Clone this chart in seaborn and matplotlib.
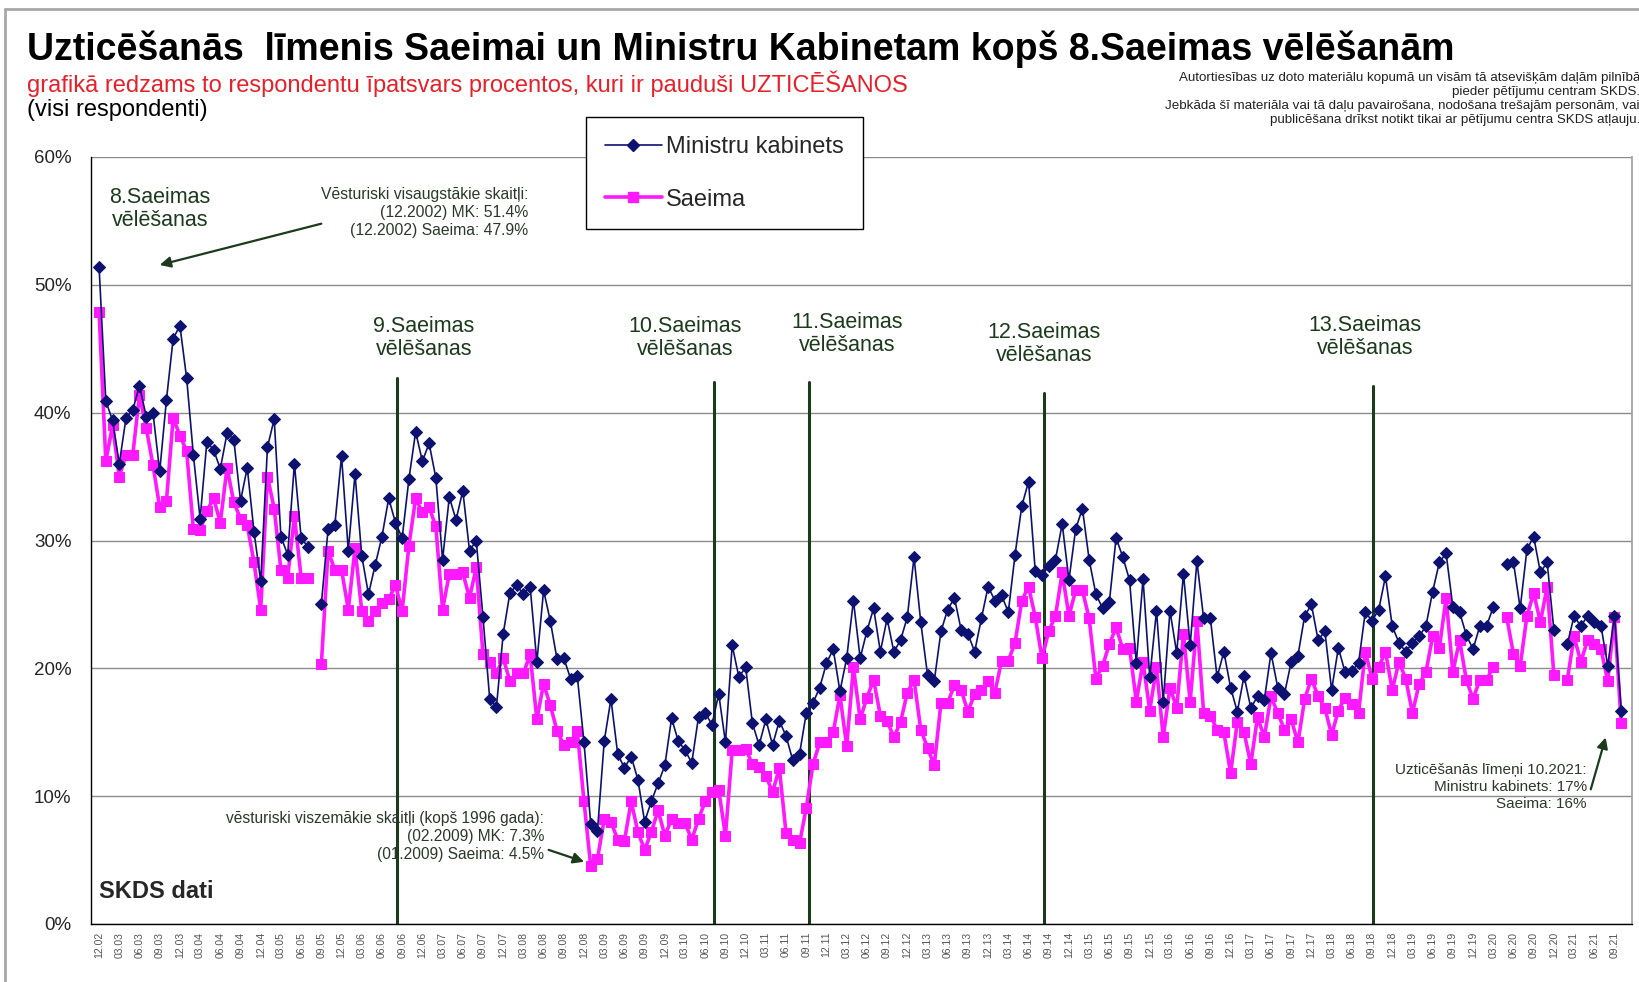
import numpy as np
import pandas as pd
import matplotlib
matplotlib.use("Agg")
import matplotlib.pyplot as plt
from matplotlib.lines import Line2D
import seaborn as sns

nan = np.nan

# Ministru kabinets, monthly from 12.2002 to 10.2021 (%)
mk = [
    51.4, 40.9, 39.4, 36.0, 39.6, 40.2, 42.1, 39.7, 40.0, 35.4,
    41.0, 45.8, 46.8, 42.7, 36.7, 31.7, 37.7, 37.1, 35.6, 38.4,
    37.9, 33.1, 35.7, 30.7, 26.8, 37.3, 39.5, 30.3, 28.9, 36.0,
    30.2, 29.5, nan, 25.0, 30.9, 31.2, 36.6, 29.2, 35.2, 28.8,
    25.8, 28.1, 30.3, 33.3, 31.4, 30.2, 34.8, 38.5, 36.2, 37.6,
    34.9, 28.5, 33.4, 31.6, 33.9, 29.2, 30.0, 24.0, 17.6, 17.0,
    22.7, 25.9, 26.5, 25.8, 26.4, 20.5, 26.1, 23.7, 20.7, 20.8,
    19.2, 19.4, 14.2, 7.8, 7.3, 14.3, 17.6, 13.3, 12.2, 13.1,
    11.3, 8.0, 9.6, 11.0, 12.4, 16.1, 14.3, 13.6, 12.6, 16.2,
    16.5, 15.6, 18.0, 14.2, 21.8, 19.3, 20.1, 15.7, 14.0, 16.0,
    14.0, 15.9, 14.7, 12.8, 13.3, 16.5, 17.3, 18.5, 20.4, 21.5,
    18.2, 20.8, 25.3, 20.8, 22.9, 24.7, 21.3, 23.9, 21.3, 22.2,
    24.0, 28.7, 23.6, 19.5, 19.0, 22.9, 24.6, 25.5, 23.0, 22.7,
    21.3, 23.9, 26.4, 25.3, 25.7, 24.4, 28.9, 32.7, 34.6, 27.6,
    27.3, 28.0, 28.5, 31.3, 26.9, 30.9, 32.5, 28.5, 25.8, 24.7,
    25.2, 30.2, 28.7, 26.9, 20.4, 27.0, 19.3, 24.5, 17.4, 24.5,
    21.2, 27.4, 21.8, 28.4, 23.9, 23.9, 19.3, 21.3, 18.5, 16.6,
    19.4, 16.9, 17.8, 17.5, 21.2, 18.5, 18.0, 20.5, 21.0, 24.1,
    25.0, 22.2, 22.9, 18.3, 21.6, 19.7, 19.8, 20.4, 24.4, 23.7,
    24.6, 27.2, 23.3, 22.0, 21.3, 22.0, 22.5, 23.3, 26.0, 28.3,
    29.0, 24.8, 24.4, 22.6, 21.5, 23.3, 23.3, 24.8, nan, 28.2,
    28.3, 24.7, 29.3, 30.3, 27.5, 28.3, 23.0, nan, 21.9, 24.1,
    23.3, 24.1, 23.6, 23.3, 20.2, 24.1, 16.7,
]

# Saeima (%)
saeima = [
    47.9, 36.2, 39.0, 35.0, 36.7, 36.7, 41.4, 38.8, 35.9, 32.6,
    33.1, 39.6, 38.2, 37.0, 30.9, 30.8, 32.3, 33.3, 31.4, 35.7,
    33.0, 31.7, 31.2, 28.3, 24.6, 35.0, 32.5, 27.7, 27.1, 31.9,
    27.1, 27.1, nan, 20.3, 29.2, 27.7, 27.7, 24.6, 29.4, 24.5,
    23.7, 24.5, 25.1, 25.4, 26.5, 24.5, 29.6, 33.3, 32.2, 32.6,
    31.1, 24.6, 27.4, 27.4, 27.5, 25.5, 27.9, 21.1, 20.5, 19.6,
    20.8, 19.0, 19.6, 19.6, 21.1, 16.0, 18.8, 17.1, 15.1, 14.0,
    14.2, 15.1, 9.6, 4.5, 5.1, 8.2, 8.0, 6.6, 6.5, 9.6,
    7.2, 5.8, 7.2, 8.9, 6.9, 8.2, 7.9, 7.9, 6.6, 8.2,
    9.6, 10.3, 10.5, 6.9, 13.6, 13.6, 13.7, 12.5, 12.3, 11.6,
    10.3, 12.2, 7.1, 6.6, 6.3, 9.1, 12.5, 14.2, 14.2, 15.0,
    17.9, 13.9, 20.1, 16.0, 17.7, 19.1, 16.3, 15.9, 14.6, 15.8,
    18.1, 19.1, 15.2, 13.8, 12.4, 17.3, 17.3, 18.7, 18.3, 16.6,
    18.0, 18.3, 19.0, 18.1, 20.6, 20.6, 22.0, 25.3, 26.4, 24.0,
    20.8, 22.9, 24.1, 27.5, 24.1, 26.1, 26.1, 23.9, 19.2, 20.2,
    21.9, 23.2, 21.5, 21.6, 17.4, 20.5, 16.7, 20.1, 14.6, 18.5,
    16.9, 22.7, 17.4, 23.7, 16.5, 16.3, 15.2, 15.0, 11.8, 15.8,
    15.0, 12.5, 16.2, 14.6, 17.8, 16.5, 15.2, 16.0, 14.2, 17.6,
    19.2, 17.8, 16.9, 14.8, 16.7, 17.7, 17.2, 16.5, 21.3, 19.2,
    20.1, 21.3, 18.3, 20.5, 19.2, 16.5, 18.8, 19.7, 22.5, 21.6,
    25.5, 19.7, 22.2, 19.1, 17.6, 19.1, 19.1, 20.1, nan, 24.0,
    21.1, 20.2, 24.1, 25.9, 23.6, 26.4, 19.5, nan, 19.1, 22.5,
    20.5, 22.2, 21.9, 21.5, 19.0, 24.0, 15.7,
]

series_names = ["Ministru kabinets", "Saeima"]
yticks = [0, 10, 20, 30, 40, 50, 60]

# election markers: position on the month axis and label
elections = [44.2, 91.3, 105.4, 140.3, 189.2]
election_labels = ["9.Saeimas\nvēlēšanas", "10.Saeimas\nvēlēšanas", "11.Saeimas\nvēlēšanas",
                   "12.Saeimas\nvēlēšanas", "13.Saeimas\nvēlēšanas"]
election_tops = [42.7, 42.4, 42.4, 41.5, 42.1]

months = pd.date_range("2002-12-01", periods=len(mk), freq="MS")
month_labels = list(months.strftime("%m.%y"))

W, H = 1640, 982


def fx(px):
    return px / W


def fy(py):
    return 1 - py / H


def to_long(values, name):
    d = pd.DataFrame({"idx": np.arange(len(values)), "val": values})
    d["seg"] = d["val"].isna().cumsum()
    d["series"] = name
    return d.dropna()


sns.set_theme(style="white")
plt.rcParams["font.family"] = ["Liberation Sans", "DejaVu Sans"]

BLUE = "#0d1270"
PINK = "#ff19ff"
GREEN = "#1c3a1c"
NARROW = ["Liberation Sans Narrow", "Liberation Sans"]

fig = plt.figure(figsize=(W / 100, H / 100), dpi=100)
ax = fig.add_axes([fx(91), fy(924), (1632 - 91) / W, (924 - 157) / H])

d_s = to_long(saeima, series_names[1])
d_m = to_long(mk, series_names[0])

sns.lineplot(data=d_s, x="idx", y="val", units="seg", estimator=None, ax=ax,
             color=PINK, linewidth=2.6, marker="s", markersize=7,
             markeredgecolor=PINK, legend=False, zorder=3)
sns.lineplot(data=d_m, x="idx", y="val", units="seg", estimator=None, ax=ax,
             color=BLUE, linewidth=1.2, marker="D", markersize=6.3,
             markeredgecolor=BLUE, legend=False, zorder=4)

ax.set_xlim(-1.2, len(mk) + 0.6)
ax.set_ylim(0, 60)
ax.set_xlabel("")
ax.set_ylabel("")

ax.set_yticks(yticks)
ax.set_yticklabels([f"{v}%" for v in yticks], fontsize=13.5)
ax.set_axisbelow(True)
ax.yaxis.grid(True, color="#8c8c8c", linewidth=1)
ax.xaxis.grid(False)

ax.set_xticks(np.arange(len(mk)))
ax.set_xticklabels([lbl if i % 3 == 0 else "" for i, lbl in enumerate(month_labels)],
                   rotation=90, fontsize=7.5, color="#555555")
ax.tick_params(axis="x", direction="inout", length=5, width=0.8, color="#555555", pad=3)
ax.tick_params(axis="y", direction="out", length=5, width=1, color="black", pad=9)

for side in ["left", "bottom"]:
    ax.spines[side].set_color("black")
    ax.spines[side].set_linewidth(1)
ax.spines["right"].set_color("#a0a0a0")
ax.spines["top"].set_visible(False)

# election lines
for xpos, top in zip(elections, election_tops):
    ax.plot([xpos, xpos], [0, top], color=GREEN, linewidth=2.2, zorder=2)

label_px = [(424, 338), (685, 338), (847, 334), (1044, 344), (1365, 337)]
for (px, py), lbl in zip(label_px, election_labels):
    fig.text(fx(px), fy(py), lbl, ha="center", va="center", fontsize=15.5,
             color=GREEN, linespacing=1.1)
fig.text(fx(160), fy(209), "8.Saeimas\nvēlēšanas", ha="center", va="center",
         fontsize=15.5, color=GREEN, linespacing=1.1)

# titles
fig.text(fx(27), fy(49), "Uzticēšanās  līmenis Saeimai un Ministru Kabinetam kopš 8.Saeimas vēlēšanām",
         fontsize=27, weight="bold", va="center", ha="left", color="black")
fig.text(fx(27), fy(84), "grafikā redzams to respondentu īpatsvars procentos, kuri ir paudu\u0161i UZTICĒŠANOS",
         fontsize=17, va="center", ha="left", color="#e8202a")
fig.text(fx(27), fy(110), "(visi respondenti)", fontsize=17, va="center", ha="left", color="black")

copy_lines = [
    "Autortiesības uz doto materiālu kopumā un visām tā atsevišķām daļām pilnībā",
    "pieder pētījumu centram SKDS.",
    "Jebkāda šī materiāla vai tā daļu pavairošana, nodošana trešajām personām, vai",
    "publicēšana drīkst notikt tikai ar pētījumu centra SKDS atļauju.",
]
for k, line in enumerate(copy_lines):
    fig.text(fx(1640), fy(78 + k * 14), line, fontsize=9.6, ha="right", va="center",
             family=NARROW, color="#222222")

fig.text(fx(99), fy(891), "SKDS dati", fontsize=17, weight="bold", va="center", ha="left")

# annotations
note_kw = dict(family=NARROW, color="#2a3a2a", ha="right")
fig.text(fx(528), fy(213), "Vēsturiski visaugstākie skaitļi:\n(12.2002) MK: 51.4%\n(12.2002) Saeima: 47.9%",
         fontsize=11.3, va="center", linespacing=1.25, **note_kw)
fig.text(fx(544), fy(837), "vēsturiski viszemākie skaitļi (kopš 1996 gada):\n(02.2009) MK: 7.3%\n(01.2009) Saeima: 4.5%",
         fontsize=11.2, va="center", linespacing=1.25, **note_kw)
fig.text(fx(1587), fy(787), "Uzticēšanās līmeņi 10.2021:\nMinistru kabinets: 17%\nSaeima: 16%",
         fontsize=11, va="center", linespacing=1.3, **note_kw)

arrow = dict(arrowstyle="-|>", color=GREEN, lw=1.6, mutation_scale=16)
ax.annotate("", xy=(8.6, 51.5), xycoords="data", xytext=(fx(324), fy(223)),
            textcoords="figure fraction", arrowprops=arrow)
ax.annotate("", xy=(72.4, 4.8), xycoords="data", xytext=(fx(546), fy(849)),
            textcoords="figure fraction", arrowprops=arrow)
ax.annotate("", xy=(223.8, 14.8), xycoords="data", xytext=(fx(1590), fy(792)),
            textcoords="figure fraction", arrowprops=arrow)

# legend
handles = [
    Line2D([], [], color=BLUE, marker="D", markersize=6.3, linewidth=1.2),
    Line2D([], [], color=PINK, marker="s", markersize=7, linewidth=2.6),
]
leg = ax.legend(handles, series_names, loc="upper left", bbox_to_anchor=(fx(586), fy(117)),
                bbox_transform=fig.transFigure, fontsize=17, frameon=True, fancybox=False,
                edgecolor="black", framealpha=1, labelspacing=1.3, borderpad=0.8,
                borderaxespad=0, handlelength=2.4, handletextpad=0.2)
leg.get_frame().set_linewidth(1)
leg.set_zorder(10)

# outer frame of the slide
fig.add_artist(Line2D([fx(5), 1], [fy(9), fy(9)], color="#a8a8a8", lw=2))
fig.add_artist(Line2D([fx(5), fx(5)], [fy(9), 0], color="#a8a8a8", lw=2))

fig.savefig("out.png", dpi=100)
